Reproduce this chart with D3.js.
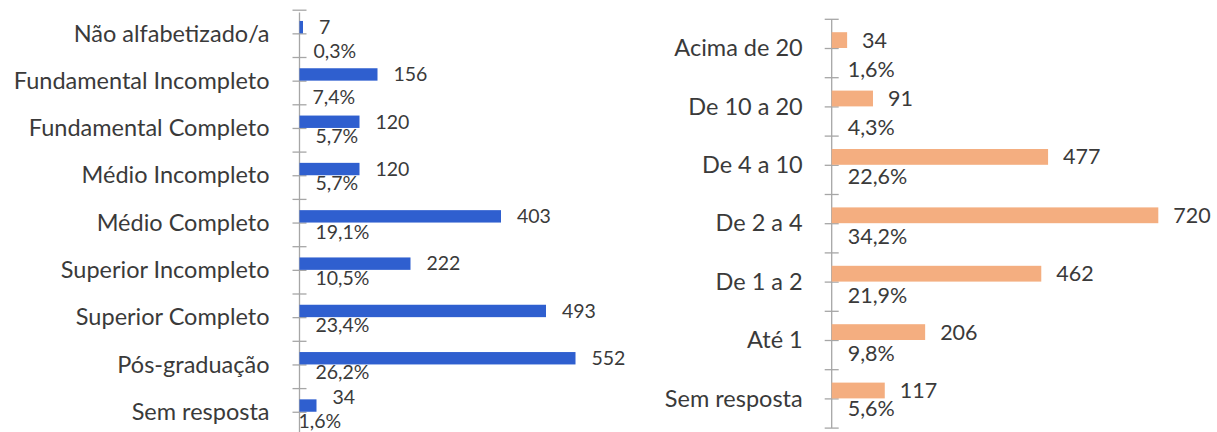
<!DOCTYPE html>
<html>
<head>
<meta charset="utf-8">
<script src="https://cdn.jsdelivr.net/npm/d3@7.9.0/dist/d3.min.js"></script>
<style>
  body { margin: 0; background: #fff; }
  svg { display: block; }
  text { font-family: Lato, "Noto Sans", sans-serif; fill: #3a3a3a; }
  .cat { font-size: 23.5px; }
</style>
</head>
<body>
<svg id="chart" width="1217" height="432"></svg>
<script>
// escolaridade
const eduLabels = ['Não alfabetizado/a', 'Fundamental Incompleto', 'Fundamental Completo',
  'Médio Incompleto', 'Médio Completo', 'Superior Incompleto', 'Superior Completo',
  'Pós-graduação', 'Sem resposta'];
const eduCounts = [7, 156, 120, 120, 403, 222, 493, 552, 34];
const eduPercents = ['0,3%', '7,4%', '5,7%', '5,7%', '19,1%', '10,5%', '23,4%', '26,2%', '1,6%'];

// renda (salários mínimos)
const incomeLabels = ['Acima de 20', 'De 10 a 20', 'De 4 a 10', 'De 2 a 4', 'De 1 a 2', 'Até 1', 'Sem resposta'];
const incomeCounts = [34, 91, 477, 720, 462, 206, 117];
const incomePercents = ['1,6%', '4,3%', '22,6%', '34,2%', '21,9%', '9,8%', '5,6%'];

// label nudges (labels were dragged by hand in the original)
const eduPctNudge = [[-2, 18], [-3, 17], [0, 8], [0, 8], [0, 10], [0, 8.5], [0, 8], [0, 7.5], [-17, 9.5]];
const eduCountNudge = [0, 0, 0, 0, 0, 0, 0, 0, -8];
const incomePctNudge = [[0, 21], [0, 21], [0, 12], [0, 13], [0, 14], [0, 13], [0, 10]];

const svg = d3.select('#chart');

function drawPanel(cfg) {
  const { labels, counts, percents, pctNudge, countNudge } = cfg;
  const g = svg.append('g');

  const y = d3.scaleBand().domain(labels).range([cfg.top, cfg.bottom]);
  const bw = y.bandwidth();
  const x = d3.scaleLinear().domain(cfg.xDomain).range([cfg.x0, cfg.x1]);

  // axis with crossing ticks at every half category
  const tickScale = d3.scaleLinear().domain([0, labels.length]).range([cfg.top, cfg.bottom]);
  const axis = g.append('g')
    .attr('transform', `translate(${cfg.x0},0)`)
    .call(d3.axisLeft(tickScale)
      .tickValues(d3.range(0, labels.length + 0.5, 0.5))
      .tickFormat('')
      .tickSizeOuter(0));
  axis.select('.domain').attr('stroke', '#a6a6a6').attr('stroke-width', 1.3)
    .attr('d', `M0,${cfg.lineTop}V${cfg.lineBottom}`);
  axis.selectAll('.tick line').attr('x1', -7).attr('x2', 7)
    .attr('stroke', '#a6a6a6').attr('stroke-width', 1.3);

  const rows = g.selectAll('g.row')
    .data(labels)
    .join('g')
    .attr('class', 'row');

  rows.append('rect')
    .attr('x', x(0))
    .attr('y', d => y(d) + bw / 2 - cfg.barH)
    .attr('width', (d, i) => x(counts[i]) - x(0))
    .attr('height', cfg.barH)
    .attr('fill', cfg.color);

  rows.append('text')
    .attr('class', 'cat')
    .attr('x', cfg.x0 - cfg.labelGap)
    .attr('y', d => y(d) + bw / 2)
    .attr('dy', '0.35em')
    .attr('text-anchor', 'end')
    .text(d => d);

  rows.append('text')
    .attr('x', (d, i) => x(counts[i]) + cfg.valueGap)
    .attr('y', (d, i) => y(d) + bw / 2 - cfg.barH / 2 + (countNudge ? countNudge[i] : 0))
    .attr('dy', '0.35em')
    .style('font-size', cfg.numSize)
    .text((d, i) => counts[i]);

  rows.append('text')
    .attr('x', (d, i) => x(0) + cfg.pctGap + pctNudge[i][0])
    .attr('y', (d, i) => y(d) + bw / 2 + pctNudge[i][1])
    .attr('dy', '0.35em')
    .style('font-size', cfg.numSize)
    .text((d, i) => percents[i]);
}

drawPanel({
  labels: eduLabels, counts: eduCounts, percents: eduPercents,
  pctNudge: eduPctNudge, countNudge: eduCountNudge,
  top: 9.7, bottom: 435.4, lineTop: 12.5, lineBottom: 440,
  x0: 299.5, x1: 599.5, xDomain: [0, 600],
  barH: 12.4, color: '#2f5fcf', labelGap: 30, valueGap: 16, pctGap: 16,
  numSize: '19.5px'
});

drawPanel({
  labels: incomeLabels, counts: incomeCounts, percents: incomePercents,
  pctNudge: incomePctNudge,
  top: 18.8, bottom: 427.6, lineTop: 19, lineBottom: 428,
  x0: 831.7, x1: 1194.6, xDomain: [0, 800],
  barH: 15.8, color: '#f4ae80', labelGap: 29, valueGap: 15, pctGap: 16,
  numSize: '21.5px'
});
</script>
</body>
</html>
